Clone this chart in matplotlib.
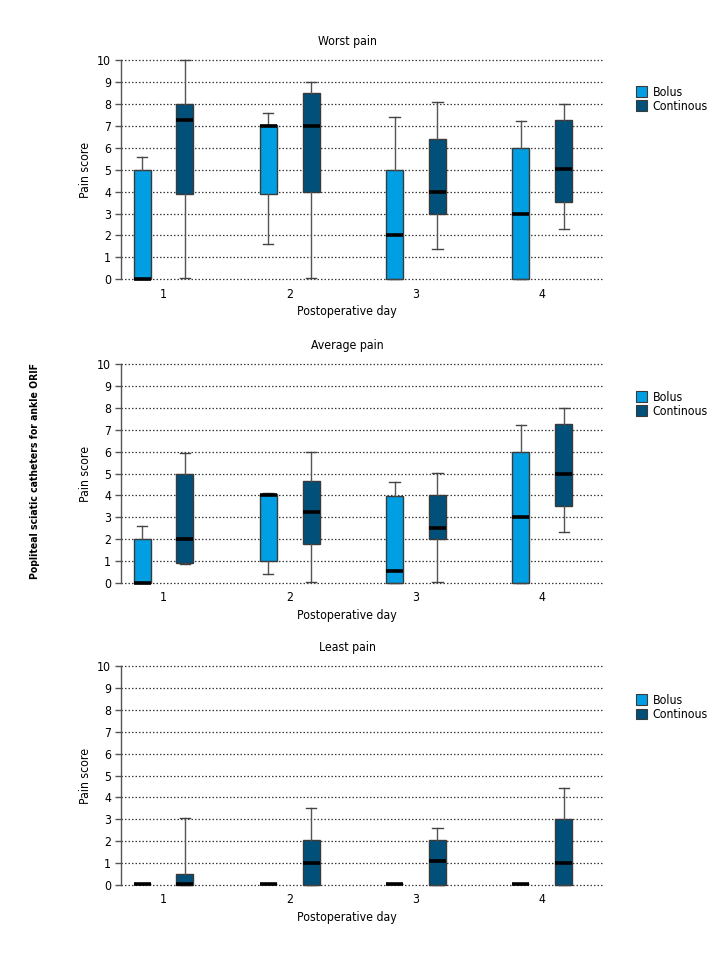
import matplotlib
matplotlib.use("Agg")
import matplotlib.pyplot as plt
from matplotlib.patches import Patch
from matplotlib import font_manager as fm

# pick a condensed/narrow font if one is installed
cond_name, cond_stretch, cond_found = "Roboto", "normal", False
prefs = ["Liberation Sans Narrow", "DejaVu Sans Condensed", "Roboto Condensed", "Open Sans Condensed", "Noto Sans Condensed"]
flist = fm.fontManager.ttflist
for p in prefs:
    key = p.replace(" ", "").lower()
    for f in flist:
        base = f.fname.replace(" ", "").replace("-", "").replace("_", "").lower()
        if key in base:
            cond_name, cond_stretch, cond_found = f.name, f.stretch, True
            break
    if cond_found:
        break
if not cond_found:
    for f in flist:
        if ("condensed" in f.fname.lower() or "narrow" in f.fname.lower()) and "mono" not in f.fname.lower() and "serif" not in f.fname.lower():
            cond_name, cond_stretch, cond_found = f.name, f.stretch, True
            break

plt.rcParams['font.family'] = [cond_name, 'DejaVu Sans']
plt.rcParams['font.stretch'] = cond_stretch
base_fs = 8.8 if cond_found else 7.5

days = ["1", "2", "3", "4"]
groups = ["Bolus", "Continous"]
panel_titles = ["Worst pain", "Average pain", "Least pain"]

# each entry: (whislo, q1, med, q3, whishi) per day
worst_bolus = [(0, 0, 0, 5, 5.6), (1.6, 3.87, 7.0, 7.05, 7.6), (0, 0, 2.02, 5, 7.4), (0, 0, 3.0, 6.0, 7.22)]
worst_cont = [(0.05, 3.87, 7.25, 8.0, 10.0), (0.08, 4.0, 7.0, 8.5, 9.0), (1.37, 3.0, 4.0, 6.4, 8.1), (2.3, 3.52, 5.02, 7.26, 8.0)]
avg_bolus = [(0, 0, 0, 2.0, 2.62), (0.43, 1.0, 4.02, 4.06, 4.12), (0, 0, 0.53, 3.98, 4.6), (0, 0, 3.0, 6.0, 7.2)]
avg_cont = [(0.85, 0.9, 2.02, 5.0, 5.93), (0.05, 1.78, 3.25, 4.64, 6.0), (0.05, 2.0, 2.5, 4.02, 5.02), (2.32, 3.52, 5.0, 7.24, 8.0)]
least_bolus = [(0.03, 0.03, 0.03, 0.03, 0.03), (0.06, 0.06, 0.06, 0.06, 0.06), (0.03, 0.03, 0.03, 0.03, 0.03), (0.05, 0.05, 0.05, 0.05, 0.05)]
least_cont = [(0, 0, 0.06, 0.53, 3.07), (0, 0, 1.02, 2.04, 3.53), (0, 0, 1.08, 2.04, 2.62), (0, 0, 1.02, 3.02, 4.45)]

panels = [(worst_bolus, worst_cont), (avg_bolus, avg_cont), (least_bolus, least_cont)]

c_bolus = "#009FE3"
c_cont = "#00507A"
edge = "#3a3a3a"

fig = plt.figure(figsize=(7.2, 9.6), dpi=100)

axes_rects = [
    (0.168, 0.709, 0.671, 0.2285),
    (0.168, 0.3927, 0.671, 0.2281),
    (0.168, 0.078, 0.671, 0.2282),
]
legend_y = [0.905, 0.90, 0.895]

def mk_stats(vals):
    out = []
    for lo, q1, med, q3, hi in vals:
        out.append(dict(whislo=lo, q1=q1, med=med, q3=q3, whishi=hi, fliers=[]))
    return out

offset = 0.17
bw = 0.135
for i, (rect, (bol, con)) in enumerate(zip(axes_rects, panels)):
    ax = fig.add_axes(rect)
    ax.set_xlim(0.663, 4.49)
    ax.set_ylim(0, 10)
    ax.set_yticks(range(0, 11))
    ax.set_xticks(range(1, 5))
    ax.set_xticklabels(days)
    for y in range(0, 11):
        ax.axhline(y, color="#3a3a3a", lw=0.9, ls=(0, (1.2, 1.6)), zorder=0)
    for stats, color, off in ((bol, c_bolus, -offset), (con, c_cont, offset)):
        pos = [d + off for d in range(1, 5)]
        ax.bxp(mk_stats(stats), positions=pos, widths=bw, capwidths=bw * 0.6,
               showfliers=False, patch_artist=True,
               boxprops=dict(facecolor=color, edgecolor=edge, linewidth=1.0),
               medianprops=dict(color="black", linewidth=2.6, solid_capstyle="butt"),
               whiskerprops=dict(color="#555555", linewidth=1.0),
               capprops=dict(color="#444444", linewidth=1.0),
               manage_ticks=False, zorder=3)
    for art in ax.get_children():
        try:
            art.set_clip_on(False)
        except Exception:
            pass
    for s in ("top", "right", "bottom"):
        ax.spines[s].set_visible(False)
    ax.spines["left"].set_color("#555555")
    ax.spines["left"].set_linewidth(1.0)
    ax.tick_params(axis="y", length=4, width=1.0, color="#555555", labelsize=base_fs, pad=3)
    ax.tick_params(axis="x", length=0, labelsize=base_fs, pad=6)
    ax.set_title(panel_titles[i], fontsize=base_fs, x=0.468, pad=11)
    ax.set_xlabel("Postoperative day", fontsize=base_fs, x=0.468, labelpad=3)
    ax.set_ylabel("Pain score", fontsize=base_fs, labelpad=4)
    handles = [Patch(facecolor=c_bolus, edgecolor=edge, lw=0.8, label=groups[0]),
               Patch(facecolor=c_cont, edgecolor=edge, lw=0.8, label=groups[1])]
    ax.legend(handles=handles, loc="upper left", bbox_to_anchor=(1.055, legend_y[i]),
              frameon=False, handlelength=0.9, handleheight=1.0, handletextpad=0.5,
              labelspacing=0.1, fontsize=base_fs, borderaxespad=0)

fig.text(0.049, 0.509, "Popliteal sciatic catheters for ankle ORIF", rotation=90,
         fontsize=base_fs - 1.3, fontweight="bold", ha="center", va="center")

fig.savefig("out.png", dpi=100)
